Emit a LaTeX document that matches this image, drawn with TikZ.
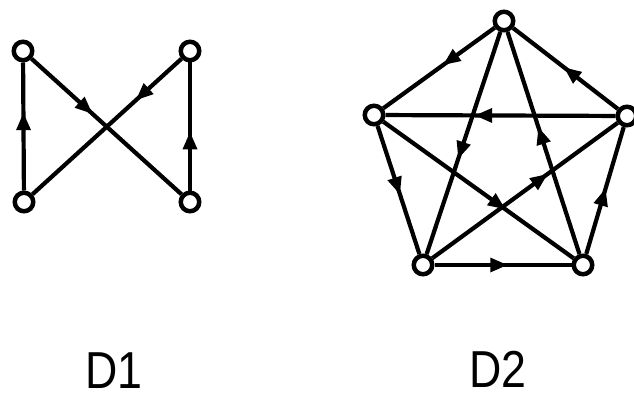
\documentclass[tikz,border=0pt]{standalone}
\usepackage{fontspec}
\setmainfont{Liberation Sans}
\usetikzlibrary{decorations.markings}
\tikzset{
  vtx/.style={circle,draw=black,fill=white,line width=3pt,minimum size=20pt,inner sep=0pt},
  edg/.style={line width=4.2pt,draw=black},
  midarrow/.style={postaction={decorate},decoration={markings,
     mark=at position #1 with {\fill[black] (7pt,0pt) -- (-10pt,7.5pt) -- (-10pt,-7.5pt) -- cycle;}}},
  lbl/.style={font=\fontsize{52}{52}\selectfont,text=black,inner sep=0pt,anchor=base,xscale=0.86}
}
\begin{document}
\begin{tikzpicture}[x=1pt,y=-1pt]
\useasboundingbox (0,0) rectangle (634,396);
% D1
\node[vtx] (a1) at (23,51) {};
\node[vtx] (a2) at (190,51) {};
\node[vtx] (a3) at (24,202) {};
\node[vtx] (a4) at (190,202) {};
% D2
\node[vtx] (t) at (504,21) {};
\node[vtx] (l) at (374,115) {};
\node[vtx] (r) at (627,116) {};
\node[vtx] (bl) at (423,265) {};
\node[vtx] (br) at (583,265) {};
% edges D1
\draw[edg,midarrow=0.55] (a3) -- (a1);
\draw[edg,midarrow=0.37] (a1) -- (a4);
\draw[edg,midarrow=0.27] (a2) -- (a3);
\draw[edg,midarrow=0.40] (a4) -- (a2);
% edges D2
\draw[edg,midarrow=0.41] (t) -- (l);
\draw[edg,midarrow=0.46] (r) -- (t);
\draw[edg,midarrow=0.58] (r) -- (l);
\draw[edg,midarrow=0.54] (br) -- (t);
\draw[edg,midarrow=0.54] (t) -- (bl);
\draw[edg,midarrow=0.48] (l) -- (bl);
\draw[edg,midarrow=0.61] (l) -- (br);
\draw[edg,midarrow=0.59] (bl) -- (r);
\draw[edg,midarrow=0.48] (bl) -- (br);
\draw[edg,midarrow=0.46] (br) -- (r);
% redraw nodes on top
\foreach \n in {a1,a2,a3,a4,t,l,r,bl,br}{
  \draw[line width=3pt,draw=black,fill=white] (\n) circle (8.5pt);
}
% labels
\node[lbl] (d1) at (114,388) {D1};
\node[lbl] (d2) at (498,387) {D2};
\end{tikzpicture}
\end{document}
